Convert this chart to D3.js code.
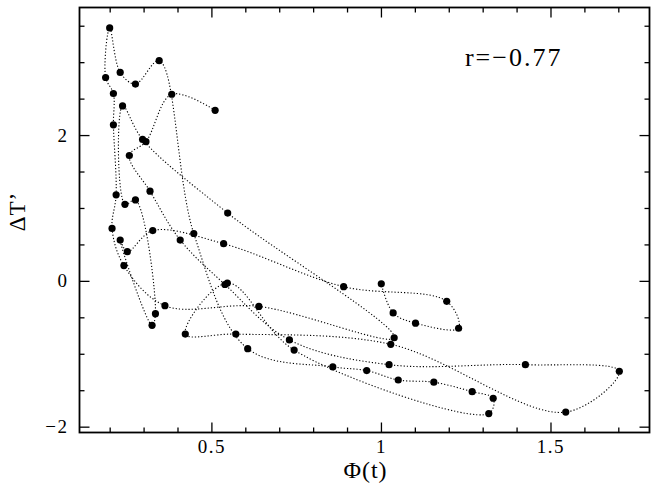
<!DOCTYPE html>
<html>
<head>
<meta charset="utf-8">
<script src="https://cdn.jsdelivr.net/npm/d3@7"></script>
<style>
  body { margin: 0; background: #fff; }
  text { font-family: "Liberation Serif", "DejaVu Serif", serif; fill: #000; }
</style>
</head>
<body>
<div class="canvas"></div>
<script>
// values, in the order the dotted curve visits them
const phi = [0.511, 0.383, 0.307, 0.258, 0.319, 0.408, 0.540, 0.730, 1.024, 1.426,
  1.703, 1.545, 1.029, 0.572, 0.423, 0.547, 0.744, 1.318, 1.331, 1.269,
  1.156, 1.051, 0.958, 0.858, 0.607, 0.448, 0.346, 0.276, 0.231, 0.200,
  0.188, 0.211, 0.211, 0.219, 0.207, 0.242, 0.363, 0.640, 1.039, 0.548,
  0.297, 0.238, 0.245, 0.276, 0.335, 0.325, 0.231, 0.252, 0.327, 0.536,
  0.890, 1.194, 1.229, 1.102, 1.036, 1.001];
const dT = [2.34, 2.56, 1.91, 1.72, 1.23, 0.56, -0.05, -0.81, -1.15, -1.15,
  -1.24, -1.80, -0.87, -0.73, -0.73, -0.03, -0.95, -1.82, -1.61, -1.52,
  -1.39, -1.36, -1.23, -1.18, -0.93, 0.65, 3.02, 2.70, 2.86, 3.47,
  2.79, 2.57, 2.14, 1.18, 0.72, 0.21, -0.34, -0.35, -0.78, 0.93,
  1.94, 2.40, 1.05, 1.11, -0.45, -0.61, 0.56, 0.40, 0.69, 0.51,
  -0.08, -0.28, -0.65, -0.58, -0.44, -0.04];

const xMajor = [0.5, 1, 1.5];
const yMajor = [-2, 0, 2];
const xLabels = ['0.5', '1', '1.5'];
const yLabels = ['\u22122', '0', '2'];
const corr = 'r=\u22120.77';

const data = phi.map((p, i) => ({ x: p, y: dT[i] }));

const dims = { width: 656, height: 490 };
const margin = { left: 79.5, right: 6.5, top: 7.5, bottom: 57.5 };
const w = dims.width - margin.left - margin.right;
const h = dims.height - margin.top - margin.bottom;

const svg = d3.select('.canvas').append('svg')
  .attr('width', dims.width)
  .attr('height', dims.height);

const graph = svg.append('g')
  .attr('transform', `translate(${margin.left}, ${margin.top})`);

const x = d3.scaleLinear().domain([0.111, 1.792]).range([0, w]);
const y = d3.scaleLinear().domain([-2.08, 3.75]).range([h, 0]);

// minor tick positions
const xMinor = d3.range(2, 18).map(d => d / 10).filter(d => !xMajor.some(m => Math.abs(m - d) < 1e-6));
const yMinor = d3.range(-4, 8).map(d => d / 2).filter(d => !yMajor.includes(d));

const styleAxis = g => {
  g.select('.domain').remove();
  g.selectAll('line').attr('stroke', '#000').attr('stroke-width', 1.3);
  g.selectAll('text')
    .style('font-size', '19px')
    .style('letter-spacing', '1.5px')
    .style('font-family', '"Liberation Serif", serif');
};

// bottom
graph.append('g').attr('transform', `translate(0, ${h})`)
  .call(d3.axisBottom(x).tickValues(xMajor).tickSize(-10).tickPadding(7)
    .tickFormat((d, i) => xLabels[i]))
  .call(styleAxis);
graph.append('g').attr('transform', `translate(0, ${h})`)
  .call(d3.axisBottom(x).tickValues(xMinor).tickSize(-5).tickFormat(''))
  .call(styleAxis);
// top
graph.append('g')
  .call(d3.axisTop(x).tickValues(xMajor).tickSize(-10).tickFormat(''))
  .call(styleAxis);
graph.append('g')
  .call(d3.axisTop(x).tickValues(xMinor).tickSize(-5).tickFormat(''))
  .call(styleAxis);
// left
graph.append('g')
  .call(d3.axisLeft(y).tickValues(yMajor).tickSize(-10).tickPadding(11)
    .tickFormat((d, i) => yLabels[i]))
  .call(styleAxis);
graph.append('g')
  .call(d3.axisLeft(y).tickValues(yMinor).tickSize(-5).tickFormat(''))
  .call(styleAxis);
// right
graph.append('g').attr('transform', `translate(${w}, 0)`)
  .call(d3.axisRight(y).tickValues(yMajor).tickSize(-10).tickFormat(''))
  .call(styleAxis);
graph.append('g').attr('transform', `translate(${w}, 0)`)
  .call(d3.axisRight(y).tickValues(yMinor).tickSize(-5).tickFormat(''))
  .call(styleAxis);

// frame
graph.append('rect')
  .attr('width', w).attr('height', h)
  .attr('fill', 'none').attr('stroke', '#000').attr('stroke-width', 1.8);

// dotted track through the points
const line = d3.line()
  .x(d => x(d.x))
  .y(d => y(d.y))
  .curve(d3.curveCatmullRom.alpha(0.5));

graph.append('path')
  .datum(data)
  .attr('d', line)
  .attr('fill', 'none')
  .attr('stroke', '#000')
  .attr('stroke-width', 1.1)
  .attr('stroke-dasharray', '1.2,2');

graph.selectAll('circle')
  .data(data)
  .enter().append('circle')
  .attr('cx', d => x(d.x))
  .attr('cy', d => y(d.y))
  .attr('r', 3.6)
  .attr('fill', '#000');

// labels
svg.append('text')
  .attr('x', margin.left + w / 2 + 1)
  .attr('y', 478)
  .attr('text-anchor', 'middle')
  .style('font-size', '24px')
  .style('letter-spacing', '1px')
  .text('\u03A6(t)');

svg.append('text')
  .attr('transform', `translate(25, ${margin.top + y(0.95)}) rotate(-90)`)
  .attr('text-anchor', 'middle')
  .style('font-size', '23px')
  .style('letter-spacing', '1px')
  .text('\u0394T\u2019');

graph.append('text')
  .attr('x', x(1.0) + 84)
  .attr('y', y(2.95))
  .style('font-size', '26px')
  .style('letter-spacing', '2px')
  .text(corr);
</script>
</body>
</html>
